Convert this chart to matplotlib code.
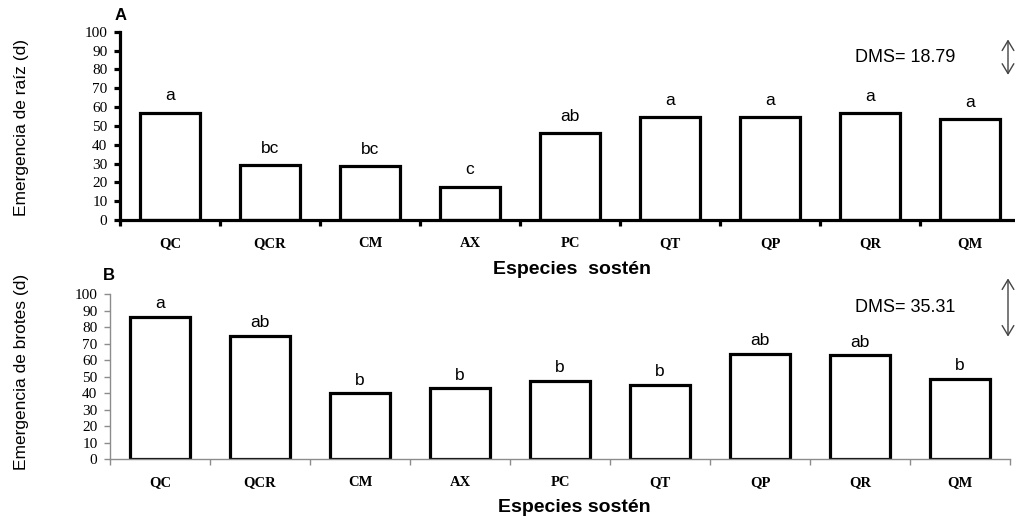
import numpy as np
import matplotlib
matplotlib.use('agg')
import matplotlib.pyplot as plt

plt.rcParams['font.family'] = ['Liberation Sans', 'DejaVu Sans']

# data
species = ['QC', 'QCR', 'CM', 'AX', 'PC', 'QT', 'QP', 'QR', 'QM']
raiz = [57.0, 29.2, 28.7, 17.7, 46.0, 54.5, 54.5, 56.7, 53.5]
raiz_letters = ['a', 'bc', 'bc', 'c', 'ab', 'a', 'a', 'a', 'a']
brotes = [86.1, 74.9, 40.0, 43.0, 47.6, 45.2, 63.8, 63.0, 48.5]
brotes_letters = ['a', 'ab', 'b', 'b', 'b', 'b', 'ab', 'ab', 'b']
dms_raiz = 18.79
dms_brotes = 35.31
yticks = list(range(0, 101, 10))

W, H = 1015, 520
fig = plt.figure(figsize=(W / 100, H / 100), dpi=100)

# panel geometry in pixels (left, top of axes, width, height)
axA = fig.add_axes([120 / W, 1 - 220 / H, 900 / W, 188.3 / H])
axB = fig.add_axes([110 / W, 1 - 459.3 / H, 900 / W, 165 / H])

serif = 'Liberation Serif'


def draw_panel(ax, values, letters, dms, dms_center, spine_color, spine_lw,
               tick_w, letter_off, dms_x):
    x = np.arange(len(species))
    ax.bar(x, values, width=0.6, color='white', edgecolor='black',
           linewidth=2.3, zorder=3)
    for xi, v, lab in zip(x, values, letters):
        ax.text(xi, v + letter_off, lab, ha='center', va='bottom',
                fontsize=12.5)
    ax.set_xlim(-0.5, len(species) - 0.5)
    ax.set_ylim(0, 100)
    ax.set_yticks(yticks)
    ax.set_yticklabels([str(t) for t in yticks], family=serif, fontsize=11)
    ax.set_xticks(x)
    ax.set_xticklabels(species, family=serif, fontsize=10.5,
                       fontweight='bold')
    ax.set_xticks(np.arange(-0.5, len(species), 1), minor=True)
    ax.tick_params(axis='x', which='major', length=0, pad=12)
    ax.tick_params(axis='x', which='minor', length=4, width=tick_w,
                   color=spine_color, direction='out')
    ax.tick_params(axis='y', length=4, width=tick_w, color=spine_color,
                   direction='out', pad=5)
    for s in ['top', 'right']:
        ax.spines[s].set_visible(False)
    for s in ['left', 'bottom']:
        ax.spines[s].set_color(spine_color)
        ax.spines[s].set_linewidth(spine_lw)
    ax.spines['bottom'].set_zorder(4)
    # DMS arrow
    ax.annotate('', xy=(dms_x, dms_center + dms / 2),
                xytext=(dms_x, dms_center - dms / 2),
                arrowprops=dict(arrowstyle='<->,head_length=0.5,head_width=0.3',
                                color='#444444', lw=1.0,
                                mutation_scale=14, shrinkA=0, shrinkB=0),
                annotation_clip=False)
    ax.text(dms_x - 1.03, dms_center, 'DMS= %.2f' % dms, ha='center',
            va='center', fontsize=13)


draw_panel(axA, raiz, raiz_letters, dms_raiz, 86.5, 'black', 2.3, 2.3, 5.0,
           8.38)
draw_panel(axB, brotes, brotes_letters, dms_brotes, 92, '#8c8c8c', 1.0, 1.0,
           3.5, 8.48)

fig.text(115 / W, 1 - 15 / H, 'A', fontsize=12, fontweight='bold',
         ha='left', va='center')
fig.text(103 / W, 1 - 275 / H, 'B', fontsize=12, fontweight='bold',
         ha='left', va='center')
fig.text(572 / W, 1 - 269 / H, 'Especies  sostén', fontsize=14,
         fontweight='bold', ha='center', va='center')
fig.text(574 / W, 1 - 508 / H, 'Especies sostén', fontsize=14,
         fontweight='bold', ha='center', va='center')
fig.text(22 / W, 1 - 127 / H, 'Emergencia de raíz (d)', fontsize=12.5,
         rotation=90, ha='center', va='center')
fig.text(22 / W, 1 - 372 / H, 'Emergencia de brotes (d)', fontsize=12.5,
         rotation=90, ha='center', va='center')

fig.savefig('out.png', dpi=100)
